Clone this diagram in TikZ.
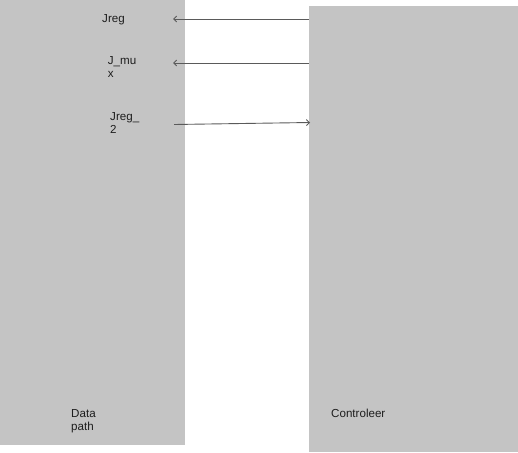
\documentclass[tikz,border=0pt]{standalone}
\usepackage{fontspec}
\setmainfont{Liberation Sans}
\usetikzlibrary{arrows.meta}
\definecolor{blockgray}{RGB}{196,196,196}
\definecolor{wiregray}{RGB}{90,90,90}
\definecolor{textdark}{RGB}{30,30,30}
\tikzset{
  block/.style={fill=blockgray, draw=none, inner sep=0pt, outer sep=0pt, anchor=north west},
  lbl/.style={font=\fontsize{11.6}{13.4}\selectfont, text=textdark, inner sep=0pt, anchor=base west, align=left},
  wire/.style={draw=wiregray, line width=0.9pt, -{Straight Barb[length=3pt,width=6pt]}}
}
\begin{document}
\begin{tikzpicture}[x=1pt,y=-1pt]
\useasboundingbox (0,0) rectangle (518,452);
\node[block, minimum width=185pt, minimum height=445pt] (dp) at (0,0) {};
\node[block, minimum width=209pt, minimum height=446pt] (ctl) at (309,6) {};
\node[lbl] (jreg) at (102,22.3) {Jreg};
\node[lbl] (jmux) at (107.7,77.7) {J\_mu\\x};
\node[lbl] (jreg2) at (110,133.4) {Jreg\_\\2};
\node[lbl] (dplbl) at (71,430.7) {Data\\path};
\node[lbl] (ctllbl) at (331,417.3) {Controleer};
\coordinate (a1s) at (309,19);
\coordinate (a1e) at (173,19);
\coordinate (a2s) at (309,63);
\coordinate (a2e) at (173,63);
\coordinate (a3s) at (174,124.5);
\coordinate (a3e) at (310,122.5);
\draw[wire] (a1s) -- (a1e);
\draw[wire] (a2s) -- (a2e);
\draw[wire] (a3s) -- (a3e);
\end{tikzpicture}
\end{document}
